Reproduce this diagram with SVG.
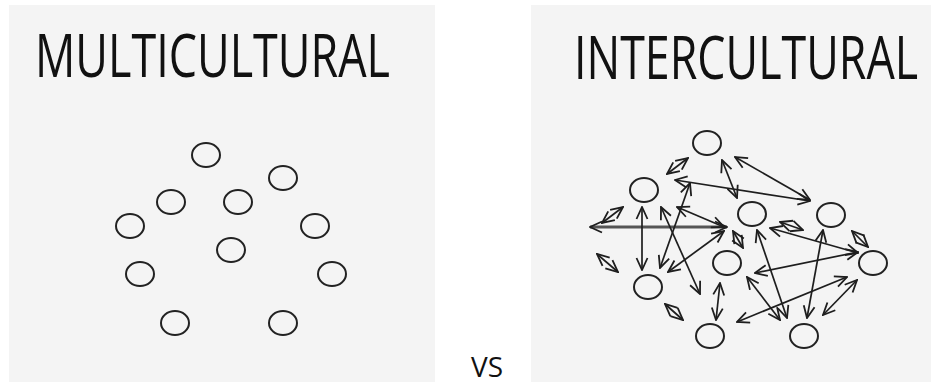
<svg xmlns="http://www.w3.org/2000/svg" width="931" height="382" viewBox="0 0 931 382">
<defs>
<style>
.panel{fill:#f4f4f4}
.title{font-family:"Open Sans","Liberation Sans",sans-serif;font-size:60px;font-weight:500;fill:#111}
.node ellipse{fill:none;stroke:#222;stroke-width:2}
.arr{fill:none;stroke:#1e1e1e;stroke-width:1.7;marker-start:url(#ah);marker-end:url(#ah)}
.thick{stroke:#555;stroke-width:3}
.vs{font-family:"Open Sans","Liberation Sans",sans-serif;font-size:28px;fill:#111}
</style>
<marker id="ah" viewBox="0 0 14 14" refX="13" refY="7" markerWidth="14" markerHeight="14" markerUnits="userSpaceOnUse" orient="auto-start-reverse">
<path d="M1,1.5 L13,7 L1,12.5" fill="none" stroke="#1e1e1e" stroke-width="1.8"/>
</marker>
</defs>
<rect width="931" height="382" fill="#ffffff"/>
<rect class="panel" x="9" y="5" width="426" height="377"/>
<rect class="panel" x="531" y="5" width="400" height="377"/>

<text class="title" transform="translate(35,77) scale(0.72,1)" x="0" y="0" textLength="493" lengthAdjust="spacingAndGlyphs">MULTICULTURAL</text>
<text class="title" transform="translate(574,79) scale(0.72,1)" x="0" y="0" textLength="478" lengthAdjust="spacingAndGlyphs">INTERCULTURAL</text>
<text class="vs" x="471" y="377" textLength="32" lengthAdjust="spacingAndGlyphs">VS</text>

<g id="multicultural">
<g id="m1" class="node"><ellipse cx="206" cy="155" rx="14" ry="12"/></g>
<g id="m2" class="node"><ellipse cx="283" cy="178" rx="14" ry="12"/></g>
<g id="m3" class="node"><ellipse cx="171" cy="202" rx="14" ry="12"/></g>
<g id="m4" class="node"><ellipse cx="238" cy="202" rx="14" ry="12"/></g>
<g id="m5" class="node"><ellipse cx="130" cy="226" rx="14" ry="12"/></g>
<g id="m6" class="node"><ellipse cx="315" cy="226" rx="14" ry="12"/></g>
<g id="m7" class="node"><ellipse cx="231" cy="250" rx="14" ry="12"/></g>
<g id="m8" class="node"><ellipse cx="140" cy="274" rx="14" ry="12"/></g>
<g id="m9" class="node"><ellipse cx="332" cy="274" rx="14" ry="12"/></g>
<g id="m10" class="node"><ellipse cx="175" cy="323" rx="14" ry="12"/></g>
<g id="m11" class="node"><ellipse cx="283" cy="323" rx="14" ry="12"/></g>
</g>

<g id="intercultural">
<g id="iA" class="node"><ellipse cx="707" cy="143" rx="14" ry="12"/></g>
<g id="iB" class="node"><ellipse cx="644" cy="190" rx="14" ry="12"/></g>
<g id="iC" class="node"><ellipse cx="752" cy="214" rx="14" ry="12"/></g>
<g id="iD" class="node"><ellipse cx="831" cy="215" rx="14" ry="12"/></g>
<g id="iE" class="node"><ellipse cx="727" cy="263" rx="14" ry="12"/></g>
<g id="iF" class="node"><ellipse cx="873" cy="263" rx="14" ry="12"/></g>
<g id="iG" class="node"><ellipse cx="648" cy="287" rx="14" ry="12"/></g>
<g id="iH" class="node"><ellipse cx="710" cy="336" rx="14" ry="12"/></g>
<g id="iI" class="node"><ellipse cx="804" cy="336" rx="14" ry="12"/></g>
</g>

<g id="connectors">
<line class="arr thick" x1="590" y1="227" x2="727" y2="227"/>
<line class="arr" x1="675" y1="180" x2="810" y2="201"/>
<line class="arr" x1="735" y1="157" x2="810" y2="200"/>
<line class="arr" x1="722" y1="160" x2="737" y2="198"/>
<line class="arr" x1="667" y1="174" x2="688" y2="158"/>
<line class="arr" x1="690" y1="183" x2="660" y2="268"/>
<line class="arr" x1="677" y1="207" x2="724" y2="227"/>
<line class="arr" x1="724" y1="231" x2="668" y2="272"/>
<line class="arr" x1="602" y1="223" x2="623" y2="207"/>
<line class="arr" x1="642" y1="207" x2="642" y2="270"/>
<line class="arr" x1="661" y1="207" x2="700" y2="294"/>
<line class="arr" x1="597" y1="254" x2="618" y2="272"/>
<line class="arr" x1="733" y1="231" x2="743" y2="248"/>
<line class="arr" x1="780" y1="222" x2="803" y2="230"/>
<line class="arr" x1="770" y1="228" x2="858" y2="253"/>
<line class="arr" x1="852" y1="231" x2="868" y2="247"/>
<line class="arr" x1="755" y1="273" x2="858" y2="252"/>
<line class="arr" x1="757" y1="230" x2="787" y2="318"/>
<line class="arr" x1="747" y1="277" x2="780" y2="320"/>
<line class="arr" x1="823" y1="230" x2="807" y2="318"/>
<line class="arr" x1="737" y1="322" x2="847" y2="277"/>
<line class="arr" x1="823" y1="315" x2="857" y2="280"/>
<line class="arr" x1="720" y1="283" x2="716" y2="320"/>
<line class="arr" x1="665" y1="304" x2="683" y2="320"/>
</g>
</svg>
